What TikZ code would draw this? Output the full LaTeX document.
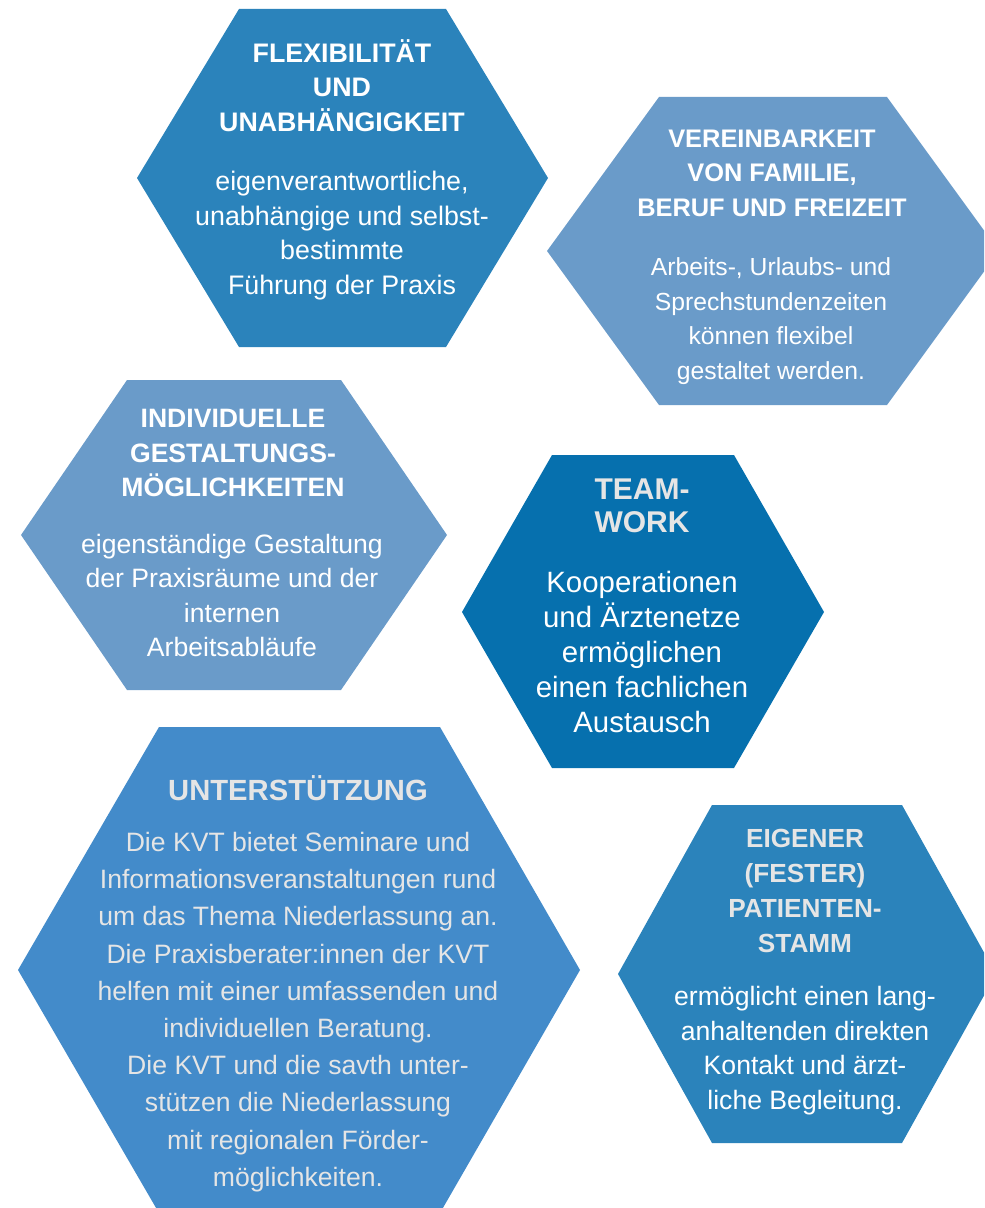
\documentclass[tikz,border=0pt]{standalone}
\usepackage{fontspec}
\setmainfont{Liberation Sans}

\definecolor{blauMittel}{RGB}{43,131,187}
\definecolor{blauHell}{RGB}{106,155,201}
\definecolor{blauDunkel}{RGB}{6,112,174}
\definecolor{blauKlar}{RGB}{67,139,202}
\definecolor{grauText}{RGB}{229,229,229}

\tikzset{
  titel/.style={align=center, inner sep=0pt, text=white},
  inhalt/.style={align=center, inner sep=0pt, text=white},
}

\begin{document}
\begin{tikzpicture}[x=0.5pt,y=-0.5pt]
  \clip (0,0) rectangle (984,1208);

  % Flexibilitaet
  \fill[blauMittel] (137,178) -- (239,9) -- (446,9) -- (548,178) -- (446,347) -- (239,347) -- cycle;
  \node[titel, font=\fontsize{13.4}{17.25}\selectfont\bfseries] (T1) at (342,85.5)
    {FLEXIBILITÄT\\UND\\UNABHÄNGIGKEIT};
  \node[inhalt, font=\fontsize{13.4}{17.25}\selectfont] (B1) at (342,235.5)
    {eigenverantwortliche,\\unabhängige und selbst-\\bestimmte\\Führung der Praxis};

  % Vereinbarkeit
  \fill[blauHell] (547,251) -- (659,97) -- (887,97) -- (999,251) -- (887,405) -- (659,405) -- cycle;
  \node[titel, font=\fontsize{12.7}{17.3}\selectfont\bfseries] (T2) at (772,173)
    {VEREINBARKEIT\\VON FAMILIE,\\BERUF UND FREIZEIT};
  \node[inhalt, font=\fontsize{12.35}{17.3}\selectfont] (B2) at (771,321)
    {Arbeits-, Urlaubs- und\\Sprechstundenzeiten\\können flexibel\\gestaltet werden.};

  % Gestaltung
  \fill[blauHell] (21,535) -- (127,380) -- (341,380) -- (447,535) -- (341,690) -- (127,690) -- cycle;
  \node[titel, font=\fontsize{13.3}{17.4}\selectfont\bfseries] (T3) at (233,453)
    {INDIVIDUELLE\\GESTALTUNGS-\\MÖGLICHKEITEN};
  \node[inhalt, font=\fontsize{13.3}{17.1}\selectfont] (B3) at (232,595.5)
    {eigenständige Gestaltung\\der Praxisräume und der\\internen\\Arbeitsabläufe};

  % Teamwork
  \fill[blauDunkel] (462,612) -- (552,455) -- (734,455) -- (824,612) -- (734,768) -- (552,768) -- cycle;
  \node[titel, text=grauText, font=\fontsize{15}{16.6}\selectfont\bfseries] (T4) at (642,506)
    {TEAM-\\WORK};
  \node[inhalt, font=\fontsize{14.7}{17.4}\selectfont] (B4) at (642,652)
    {Kooperationen\\und Ärztenetze\\ermöglichen\\einen fachlichen\\Austausch};

  % Unterstuetzung
  \fill[blauKlar] (18,970) -- (159,727) -- (440,727) -- (580,970) -- (440,1213) -- (159,1213) -- cycle;
  \node[titel, text=grauText, font=\fontsize{14.6}{17.4}\selectfont\bfseries] (T5) at (298,788)
    {UNTERSTÜTZUNG};
  \node[inhalt, text=grauText, font=\fontsize{13.3}{18.6}\selectfont] (B5) at (298,1012)
    {Die KVT bietet Seminare und\\Informationsveranstaltungen rund\\um das Thema Niederlassung an.\\
     Die Praxisberater:innen der KVT\\helfen mit einer umfassenden und\\individuellen Beratung.\\
     Die KVT und die savth unter-\\stützen die Niederlassung\\mit regionalen Förder-\\möglichkeiten.};

  % Patientenstamm
  \fill[blauMittel] (618,974) -- (712,805) -- (902,805) -- (996,974) -- (902,1143) -- (712,1143) -- cycle;
  \node[titel, text=grauText, font=\fontsize{13.1}{17.35}\selectfont\bfseries] (T6) at (805,891)
    {EIGENER\\(FESTER)\\PATIENTEN-\\STAMM};
  \node[inhalt, font=\fontsize{13.3}{17.35}\selectfont] (B6) at (805,1050.5)
    {ermöglicht einen lang-\\anhaltenden direkten\\Kontakt und ärzt-\\liche Begleitung.};
\end{tikzpicture}
\end{document}
